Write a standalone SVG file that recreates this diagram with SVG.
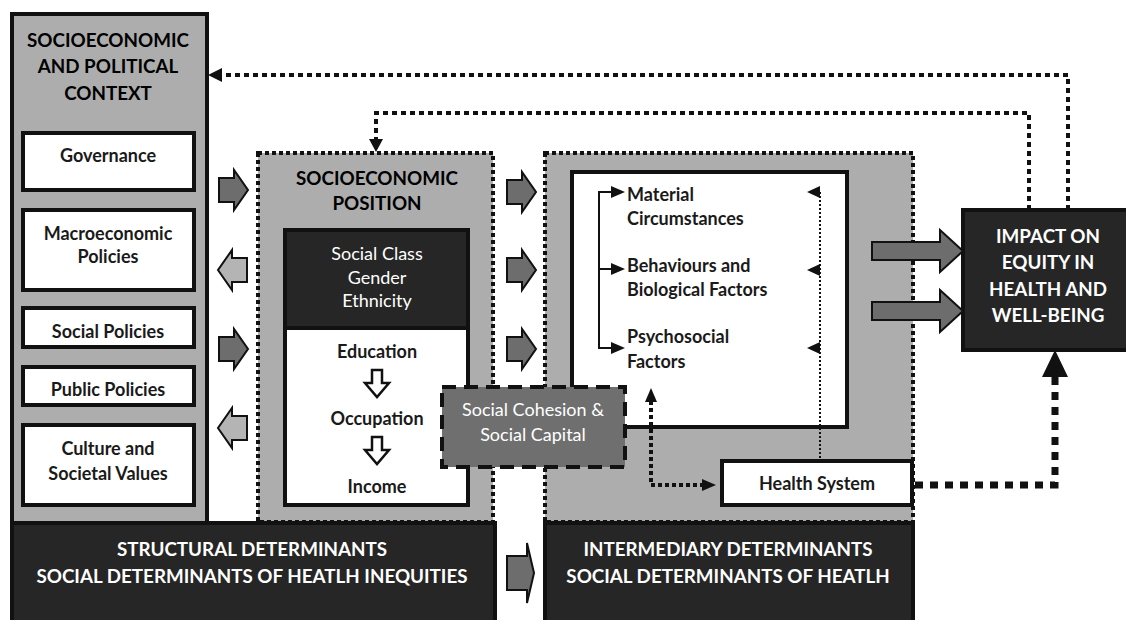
<svg xmlns="http://www.w3.org/2000/svg" width="1126" height="620" viewBox="0 0 1126 620">
<style>
.t{font-family:Lato,"Open Sans","Liberation Sans",sans-serif;text-anchor:middle}
.h{font-size:18.8px;font-weight:bold}
.b{font-size:18px;font-weight:bold;fill:#1a1a1a}
.w{font-size:18px;fill:#fff}
.wh{font-size:18.8px;font-weight:bold;fill:#fff}
.l{font-family:Lato,"Open Sans","Liberation Sans",sans-serif;font-size:18px;font-weight:bold;fill:#1a1a1a}
.box{fill:#fff;stroke:#111;stroke-width:4}
.gray{fill:#adadad}
.dark{fill:#262626;stroke:#111;stroke-width:4}
.dot{fill:none;stroke:#111;stroke-width:4;stroke-dasharray:4 3}
.fb{fill:none;stroke:#111;stroke-width:4;stroke-dasharray:5 4}
.ah{fill:#111}
.ra{fill:#6d6d6d;stroke:#111;stroke-width:2}
.la{fill:#b4b4b4;stroke:#111;stroke-width:2}
</style>
<defs>
<path id="rarrow" d="M-14,-12 H1 V-20 L15,0 L1,20 V12 H-14 Z"/>
<path id="larrow" d="M14,-12 H-1 V-20 L-15,0 L-1,20 V12 H14 Z"/>
<path id="darrow" d="M-5,0 H5 V13 H12 L0,27 L-12,13 H-5 Z"/>
</defs>

<g id="context">
<rect x="12" y="14" width="195" height="510" class="gray" stroke="#111" stroke-width="4"/>
<text class="t h" x="108" y="47">SOCIOECONOMIC</text>
<text class="t h" x="108" y="73">AND POLITICAL</text>
<text class="t h" x="108" y="100">CONTEXT</text>
</g>
<g id="governance"><rect x="23" y="133" width="171" height="57" class="box"/><text class="t b" x="108" y="162">Governance</text></g>
<g id="macro"><rect x="23" y="210" width="171" height="80" class="box"/><text class="t b" x="108" y="240">Macroeconomic</text><text class="t b" x="108" y="263">Policies</text></g>
<g id="social-policies"><rect x="23" y="308" width="171" height="39" class="box"/><text class="t b" x="108" y="338">Social Policies</text></g>
<g id="public-policies"><rect x="23" y="367" width="171" height="38" class="box"/><text class="t b" x="108" y="396">Public Policies</text></g>
<g id="culture"><rect x="23" y="425" width="171" height="80" class="box"/><text class="t b" x="108" y="455">Culture and</text><text class="t b" x="108" y="480">Societal Values</text></g>

<g id="socioeconomic-position">
<rect x="258" y="153" width="235" height="369" class="gray"/>
<rect x="258" y="153" width="235" height="369" class="dot"/>
<text class="t h" x="377" y="185">SOCIOECONOMIC</text>
<text class="t h" x="377" y="210">POSITION</text>
</g>
<g id="class-gender">
<rect x="285" y="230" width="183" height="98" class="dark"/>
<text class="t w" x="377" y="260">Social Class</text>
<text class="t w" x="377" y="284">Gender</text>
<text class="t w" x="377" y="307">Ethnicity</text>
</g>
<g id="education">
<rect x="285" y="328" width="183" height="177" class="box"/>
<text class="t b" x="377" y="358">Education</text>
<use href="#darrow" x="377" y="370" fill="#fff" stroke="#111" stroke-width="2.5"/>
<text class="t b" x="377" y="425">Occupation</text>
<use href="#darrow" x="377" y="437" fill="#fff" stroke="#111" stroke-width="2.5"/>
<text class="t b" x="377" y="493">Income</text>
</g>

<g id="intermediary">
<rect x="545" y="153" width="368" height="369" class="gray"/>
<rect x="545" y="153" width="368" height="369" class="dot"/>
</g>
<g id="intermediary-factors">
<rect x="572" y="172" width="275" height="255" class="box"/>
<text class="l" x="627" y="201">Material</text>
<text class="l" x="627" y="225">Circumstances</text>
<text class="l" x="627" y="272">Behaviours and</text>
<text class="l" x="627" y="296">Biological Factors</text>
<text class="l" x="627" y="343">Psychosocial</text>
<text class="l" x="627" y="368">Factors</text>
</g>

<g id="social-cohesion">
<rect x="442" y="387" width="183" height="80" fill="#6f6f6f" stroke="#111" stroke-width="4" stroke-dasharray="14 8"/>
<text class="t w" x="533" y="416">Social Cohesion &amp;</text>
<text class="t w" x="533" y="441">Social Capital</text>
</g>

<g id="health-system">
<rect x="722" y="461" width="190" height="44" class="box"/>
<text class="t b" x="817" y="490">Health System</text>
</g>

<g id="impact">
<rect x="963" y="210" width="170" height="140" class="dark"/>
<text class="t wh" x="1048" y="243">IMPACT ON</text>
<text class="t wh" x="1048" y="269">EQUITY IN</text>
<text class="t wh" x="1048" y="296">HEALTH AND</text>
<text class="t wh" x="1048" y="322">WELL-BEING</text>
</g>

<g id="structural">
<rect x="12" y="523" width="483" height="110" class="dark"/>
<text class="t wh" x="252" y="556">STRUCTURAL DETERMINANTS</text>
<text class="t wh" x="252" y="583">SOCIAL DETERMINANTS OF HEATLH INEQUITIES</text>
</g>
<g id="intermediary-label">
<rect x="545" y="523" width="368" height="110" class="dark"/>
<text class="t wh" x="728" y="556">INTERMEDIARY DETERMINANTS</text>
<text class="t wh" x="728" y="583">SOCIAL DETERMINANTS OF HEATLH</text>
</g>

<g id="connectors">
<path class="fb" d="M1068,210 V75 H222"/>
<polygon class="ah" points="208,75 222,68 222,82"/>
<path class="fb" d="M1029,210 V113 H376 V140"/>
<polygon class="ah" points="376,152 369,139 383,139"/>
<use href="#rarrow" x="233" y="190" class="ra"/>
<use href="#larrow" x="233" y="270" class="la"/>
<use href="#rarrow" x="233" y="349" class="ra"/>
<use href="#larrow" x="233" y="428" class="la"/>
<use href="#rarrow" x="521" y="192" class="ra"/>
<use href="#rarrow" x="521" y="270" class="ra"/>
<use href="#rarrow" x="521" y="349" class="ra"/>
<path class="ra" d="M507,556 H527 V543 L534,573 L527,603 V590 H507 Z"/>
<path class="ra" d="M872,242 H940 V230 L963,251 L940,272 V260 H872 Z"/>
<path class="ra" d="M872,302 H940 V290 L963,311 L940,332 V320 H872 Z"/>
<path d="M612,192 H599 V348 H612 M599,269 H612" fill="none" stroke="#111" stroke-width="2"/>
<polygon class="ah" points="625,192 611,186 611,198"/>
<polygon class="ah" points="625,269 611,263 611,275"/>
<polygon class="ah" points="625,348 611,342 611,354"/>
<path d="M820,192 V461" fill="none" stroke="#111" stroke-width="2" stroke-dasharray="2 2"/>
<polygon class="ah" points="807,192 820,186 820,198"/>
<polygon class="ah" points="807,270 820,264 820,276"/>
<polygon class="ah" points="807,348 820,342 820,354"/>
<path d="M651,401 V485 H703" fill="none" stroke="#111" stroke-width="4" stroke-dasharray="4 3"/>
<polygon class="ah" points="651,388 645,402 657,402"/>
<polygon class="ah" points="716,485 702,479 702,491"/>
<path d="M915,485 H1055 V376" fill="none" stroke="#111" stroke-width="7" stroke-dasharray="8 7"/>
<polygon class="ah" points="1055,350 1042,377 1068,377"/>
</g>
</svg>
